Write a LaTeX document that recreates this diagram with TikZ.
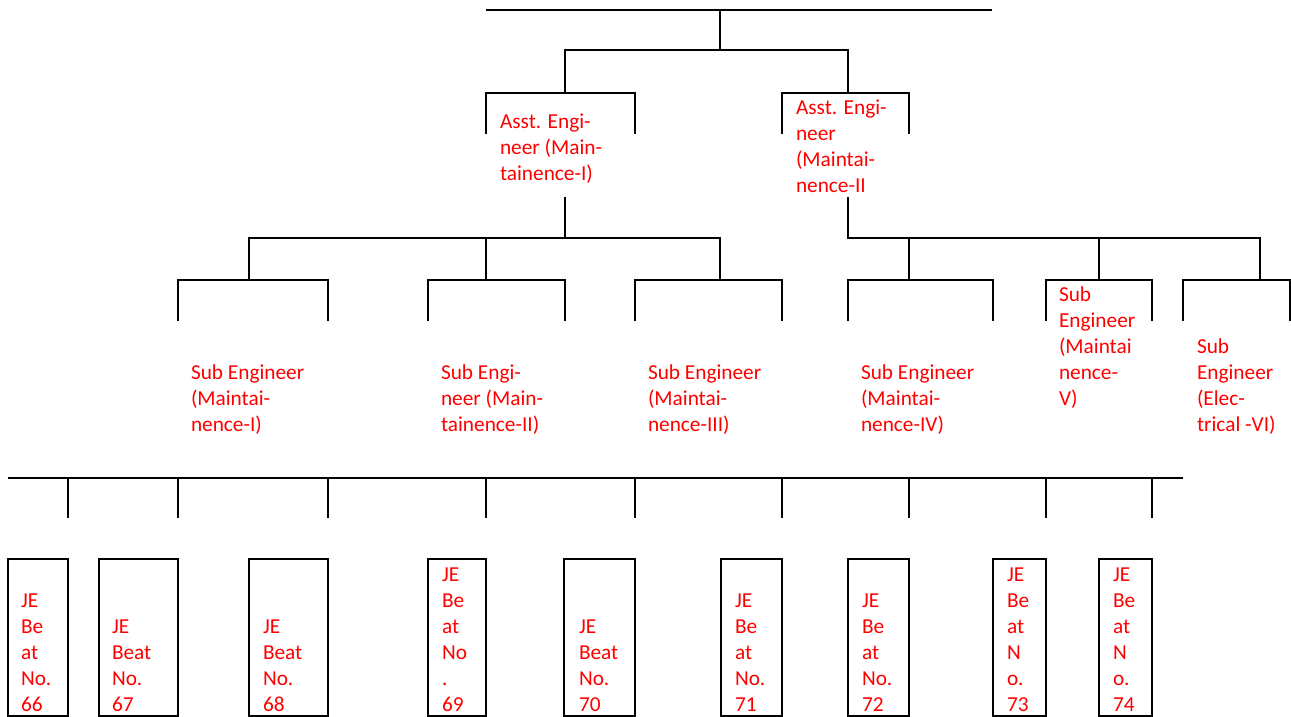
\documentclass[tikz,border=0pt]{standalone}
\usepackage{fontspec}
\setmainfont{Carlito}
\begin{document}
\begin{tikzpicture}[x=1pt,y=-1pt,
  ln/.style={draw=black,line width=2pt},
  txt/.style={anchor=base west,inner sep=0pt,outer sep=0pt,align=left,text=red,font=\fontsize{21.3}{26}\selectfont},
  jebox/.style={draw=black,line width=2pt,inner sep=0pt,minimum height=157pt}]
\useasboundingbox (0,0) rectangle (1291,717);
% top level
\draw[ln] (486,10) -- (992,10);
\draw[ln] (720,10) -- (720,50);
\draw[ln] (565,93) -- (565,50) -- (848,50) -- (848,93);
% AE brackets
\draw[ln] (486,134) -- (486,93) -- (635,93) -- (635,134);
\draw[ln] (782,134) -- (782,93) -- (909,93) -- (909,134);
\node[txt] (ae1) at (500,180) {Asst. Engi-\\neer (Main-\\tainence-I)};
\node[txt] (ae2) at (796,192) {Asst. Engi-\\neer\\(Maintai-\\nence-II};
% AE1 children
\draw[ln] (565,197) -- (565,238);
\draw[ln] (249,280) -- (249,238) -- (720,238) -- (720,280);
\draw[ln] (486,238) -- (486,280);
% AE2 children
\draw[ln] (848,197) -- (848,238) -- (1260,238) -- (1260,280);
\draw[ln] (909,238) -- (909,280);
\draw[ln] (1099,238) -- (1099,280);
% sub engineer brackets
\draw[ln] (178,321) -- (178,280) -- (328,280) -- (328,321);
\draw[ln] (428,321) -- (428,280) -- (565,280) -- (565,321);
\draw[ln] (635,321) -- (635,280) -- (782,280) -- (782,321);
\draw[ln] (848,321) -- (848,280) -- (993,280) -- (993,321);
\draw[ln] (1046,321) -- (1046,280) -- (1152,280) -- (1152,321);
\draw[ln] (1183,321) -- (1183,280) -- (1290,280) -- (1290,321);
\node[txt] (se1) at (191,431) {Sub Engineer\\(Maintai-\\nence-I)};
\node[txt] (se2) at (441,431) {Sub Engi-\\neer (Main-\\tainence-II)};
\node[txt] (se3) at (648,431) {Sub Engineer\\(Maintai-\\nence-III)};
\node[txt] (se4) at (861,431) {Sub Engineer\\(Maintai-\\nence-IV)};
\node[txt] (se5) at (1059,405) {Sub\\Engineer\\(Maintai\\nence-\\V)};
\node[txt] (se6) at (1197,431) {Sub\\Engineer\\(Elec-\\trical -VI)};
% bottom bus
\draw[ln] (8,478) -- (1183,478);
\foreach \xx in {68,178,328,486,635,782,909,1046,1152}
  \draw[ln] (\xx,478) -- (\xx,518);
% JE boxes
\node[jebox,minimum width=60pt] (b66) at (38,637.5) {};
\node[jebox,minimum width=79pt] (b67) at (138.5,637.5) {};
\node[jebox,minimum width=79pt] (b68) at (288.5,637.5) {};
\node[jebox,minimum width=58pt] (b69) at (457,637.5) {};
\node[jebox,minimum width=71pt] (b70) at (599.5,637.5) {};
\node[jebox,minimum width=61pt] (b71) at (751.5,637.5) {};
\node[jebox,minimum width=61pt] (b72) at (878.5,637.5) {};
\node[jebox,minimum width=53pt] (b73) at (1019.5,637.5) {};
\node[jebox,minimum width=53pt] (b74) at (1125.5,637.5) {};
\node[txt] (t66) at (21,711) {JE\\Be\\at\\No.\\66};
\node[txt] (t67) at (112,711) {JE\\Beat\\No.\\67};
\node[txt] (t68) at (263,711) {JE\\Beat\\No.\\68};
\node[txt] (t69) at (442,711) {JE\\Be\\at\\No\\.\\69};
\node[txt] (t70) at (579,711) {JE\\Beat\\No.\\70};
\node[txt] (t71) at (735,711) {JE\\Be\\at\\No.\\71};
\node[txt] (t72) at (862,711) {JE\\Be\\at\\No.\\72};
\node[txt] (t73) at (1007,711) {JE\\Be\\at\\N\\o.\\73};
\node[txt] (t74) at (1113,711) {JE\\Be\\at\\N\\o.\\74};
\end{tikzpicture}
\end{document}
